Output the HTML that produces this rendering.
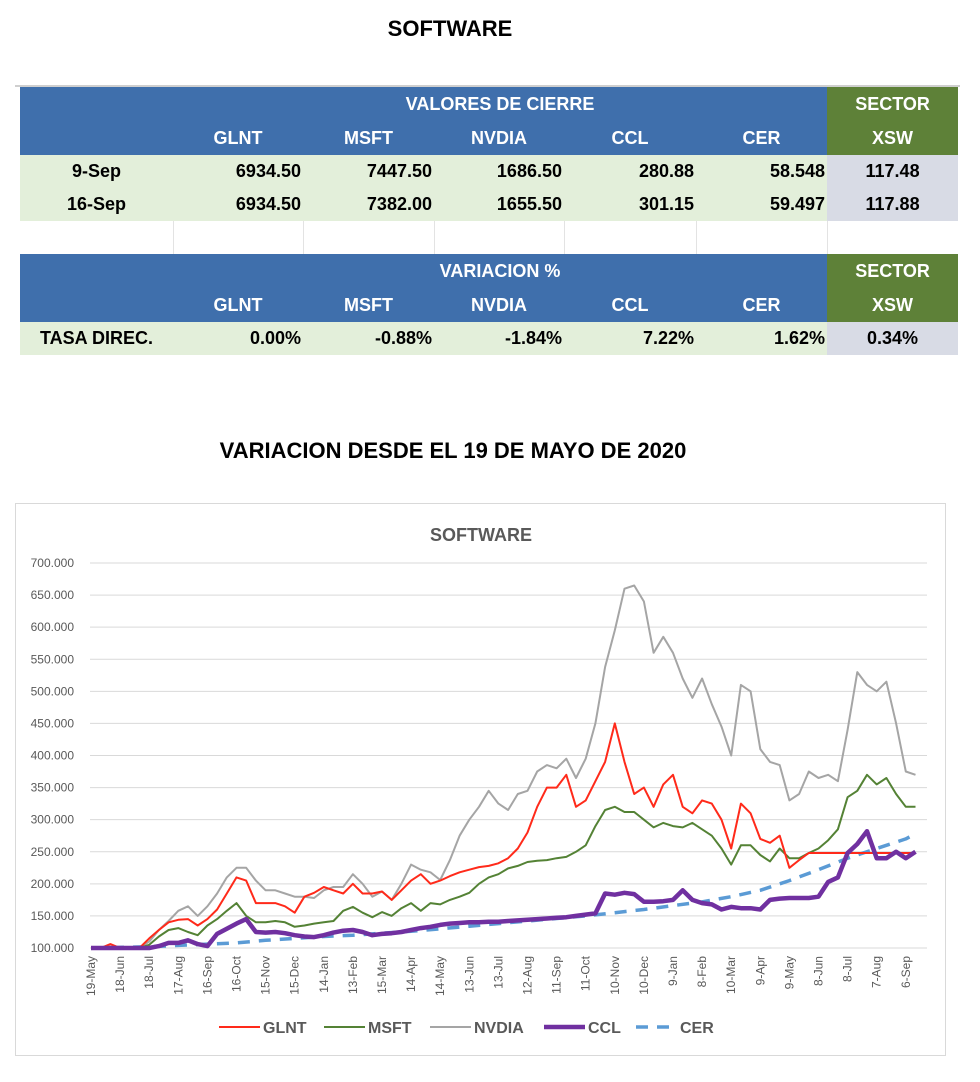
<!DOCTYPE html>
<html><head><meta charset="utf-8">
<style>
body{margin:0;background:#fff;width:980px;height:1082px;overflow:hidden;position:relative;font-family:"Liberation Sans",sans-serif;}
.t{position:absolute;font-weight:bold;color:#000;text-align:center;}
.tbl{position:absolute;left:20px;top:87px;width:938px;border-collapse:collapse;table-layout:fixed;}
.tbl td{padding:0 2px;height:33px;font-weight:bold;font-size:18px;white-space:nowrap;box-sizing:border-box;overflow:hidden;}
.h td{background:#3F6FAC;color:#fff;text-align:center;height:34px;}
.h td.s{background:#5E8138;}
.d td{background:#E3EFDA;color:#000;text-align:right;}
.d td.l{text-align:center;}
.d td.s{background:#D8DBE5;text-align:center;}
.b td{background:#fff;height:33px;border-left:1px solid #e3e3e3;}
</style></head><body>
<div class="t" style="left:0;width:900px;top:16px;font-size:22px;">SOFTWARE</div>
<div style="position:absolute;left:15px;top:85px;width:945px;height:2px;background:#cfcfcf"></div>
<table class="tbl">
<colgroup><col style="width:153px"><col style="width:130px"><col style="width:131px"><col style="width:130px"><col style="width:132px"><col style="width:131px"><col style="width:131px"></colgroup>
<tr class="h"><td></td><td colspan="5">VALORES DE CIERRE</td><td class="s">SECTOR</td></tr>
<tr class="h"><td></td><td>GLNT</td><td>MSFT</td><td>NVDIA</td><td>CCL</td><td>CER</td><td class="s">XSW</td></tr>
<tr class="d"><td class="l">9-Sep</td><td>6934.50</td><td>7447.50</td><td>1686.50</td><td>280.88</td><td>58.548</td><td class="s">117.48</td></tr>
<tr class="d"><td class="l">16-Sep</td><td>6934.50</td><td>7382.00</td><td>1655.50</td><td>301.15</td><td>59.497</td><td class="s">117.88</td></tr>
<tr class="b"><td style="border-left:none"></td><td></td><td></td><td></td><td></td><td></td><td></td></tr>
<tr class="h"><td></td><td colspan="5">VARIACION %</td><td class="s">SECTOR</td></tr>
<tr class="h"><td></td><td>GLNT</td><td>MSFT</td><td>NVDIA</td><td>CCL</td><td>CER</td><td class="s">XSW</td></tr>
<tr class="d"><td class="l">TASA DIREC.</td><td>0.00%</td><td>-0.88%</td><td>-1.84%</td><td>7.22%</td><td>1.62%</td><td class="s">0.34%</td></tr>
</table>
<div class="t" style="left:0;width:906px;top:438px;font-size:22px;">VARIACION DESDE EL 19 DE MAYO DE 2020</div>
<svg id="chart" width="980" height="1082" style="position:absolute;left:0;top:0" xmlns="http://www.w3.org/2000/svg">
<rect x="15.5" y="503.5" width="930" height="552" fill="none" stroke="#d9d9d9"/>
<text x="481" y="541" text-anchor="middle" font-family="Liberation Sans" font-weight="bold" font-size="18" fill="#595959">SOFTWARE</text>
</svg>
<script>
const yTicks=[100,150,200,250,300,350,400,450,500,550,600,650,700];
const xLabels=["19-May","18-Jun","18-Jul","17-Aug","16-Sep","16-Oct","15-Nov","15-Dec","14-Jan","13-Feb","15-Mar","14-Apr","14-May","13-Jun","13-Jul","12-Aug","11-Sep","11-Oct","10-Nov","10-Dec","9-Jan","8-Feb","10-Mar","9-Apr","9-May","8-Jun","8-Jul","7-Aug","6-Sep"];
// values every 10 days starting 19-May-2020
const glnt=[100,100,106,100,100,100,115,128,140,144,145,135,145,160,185,210,205,170,170,170,165,155,180,186,195,190,185,200,185,185,188,175,190,205,215,200,205,212,218,222,226,228,232,240,255,280,320,350,350,370,320,330,360,390,450,390,340,350,320,355,370,320,310,330,325,300,255,325,310,270,264,275,225,237,248,248,248,248,248,248,248,248,248,248,248,248];
const msft=[100,100,102,100,100,100,105,118,128,131,125,120,135,145,158,170,150,140,140,142,140,133,135,138,140,142,158,164,155,148,156,150,162,170,158,170,168,175,180,186,200,210,215,224,228,234,236,237,240,242,250,260,290,315,320,312,312,300,288,295,290,288,295,285,275,255,230,260,260,245,235,255,240,240,248,255,268,285,335,345,370,355,365,340,320,320];
const nvdia=[100,101,100,100,100,100,110,128,142,158,165,150,165,185,210,225,225,205,190,190,185,180,180,178,190,195,195,215,200,180,188,175,200,230,222,218,206,237,275,300,320,345,325,315,340,345,375,385,380,395,365,395,450,538,595,660,665,640,560,585,560,520,490,520,480,445,400,510,500,410,390,385,330,340,375,365,370,360,440,530,510,500,515,450,375,370];
const ccl=[100,100,100,100,100,100,100,103,108,108,112,106,103,122,130,138,145,125,124,125,123,120,118,117,120,124,127,128,125,120,122,123,125,128,131,133,136,138,139,140,140,141,141,142,143,144,145,146,147,148,150,152,154,185,183,186,184,172,172,173,175,190,175,170,168,160,164,162,162,160,175,177,178,178,178,180,203,210,248,262,282,240,240,250,240,250];
// CER every 30 days, last point 16-Sep-2022
const cerDays=[0,30,60,90,120,150,180,210,240,270,300,330,360,390,420,450,480,510,540,570,600,630,660,690,720,750,780,810,840,850];
const cer=[100,101,102,104,106,108,112,115,118,120,123,126,130,134,138,142,146,150,155,160,166,172,180,190,205,222,240,255,270,278];
const stepDays=10;
const svg=document.getElementById('chart');
const NS='http://www.w3.org/2000/svg';
const X0=91,PXDAY=0.97,Y0=948,PXUNIT=385/600;
function xs(day){return X0+day*PXDAY;}
function ys(v){return Y0-(v-100)*PXUNIT;}
function mk(tag,attrs){const e=document.createElementNS(NS,tag);for(const k in attrs)e.setAttribute(k,attrs[k]);svg.appendChild(e);return e;}
yTicks.forEach(v=>{
  const g=mk('line',{x1:90,x2:927,y1:ys(v),y2:ys(v),stroke:'#d9d9d9','stroke-width':1});
  
  
  const t=mk('text',{x:74,y:ys(v)+4,'text-anchor':'end','font-family':'Liberation Sans','font-size':12,fill:'#595959'});
  t.textContent=v.toFixed(3);
  
  
});
xLabels.forEach((l,i)=>{
  const x=xs(i*30)+4;
  const t=mk('text',{x:0,y:0,'text-anchor':'end','font-family':'Liberation Sans','font-size':12,fill:'#595959',transform:`translate(${x},956) rotate(-90)`});
  t.textContent=l;
  
  
});
function series(vals,days,color,w,name,dash){
  const pts=vals.map((v,i)=>xs(days?days[i]:i*stepDays).toFixed(1)+','+ys(v).toFixed(1)).join(' ');
  const p=mk('polyline',{points:pts,fill:'none',stroke:color,'stroke-width':w,'stroke-linejoin':'round'});
  if(dash)p.setAttribute('stroke-dasharray',dash);
  
  
}
series(cer,cerDays,'#5B9BD5',3.5,'cer-line','12,9');
series(nvdia,null,'#A5A5A5',2,'nvdia-line');
series(msft,null,'#548235',2,'msft-line');
series(glnt,null,'#FF2A1A',2,'glnt-line');
series(ccl,null,'#7030A0',4.5,'ccl-line');
const leg=[['GLNT','#FF2A1A',2,219,null],['MSFT','#548235',2,324,null],['NVDIA','#A5A5A5',2,430,null],['CCL','#7030A0',4.5,544,null],['CER','#5B9BD5',3.5,636,'12,9']];
leg.forEach(([n,c,w,x,d])=>{
  const l=mk('line',{x1:x,x2:x+41,y1:1027,y2:1027,stroke:c,'stroke-width':w});
  if(d)l.setAttribute('stroke-dasharray',d);
  
  
  const t=mk('text',{x:x+44,y:1033,'font-family':'Liberation Sans','font-weight':'bold','font-size':16,fill:'#595959'});
  t.textContent=n;
  
  
});
</script>
</body></html>
